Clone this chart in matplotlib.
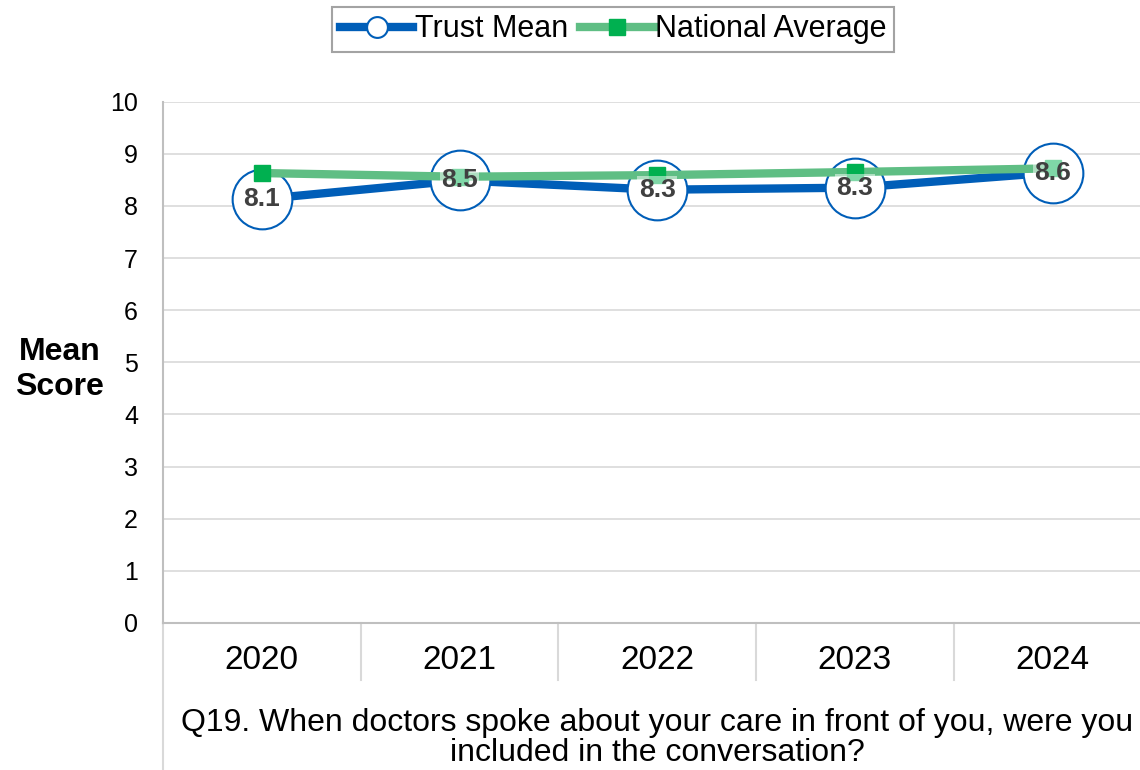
import matplotlib
matplotlib.use("Agg")
import matplotlib.pyplot as plt
from matplotlib.lines import Line2D

plt.rcParams['font.family'] = ['Liberation Sans', 'DejaVu Sans']

years = ["2020", "2021", "2022", "2023", "2024"]
trust_mean = [8.13, 8.49, 8.31, 8.35, 8.64]
trust_labels = ["8.1", "8.5", "8.3", "8.3", "8.6"]
national_avg = [8.63, 8.56, 8.59, 8.65, 8.72]
y_ticks = [0, 1, 2, 3, 4, 5, 6, 7, 8, 9, 10]
question = "Q19. When doctors spoke about your care in front of you, were you\nincluded in the conversation?"

BLUE = "#005EB8"
GREEN_LINE = "#5FBE84"
GREEN_MARK = "#00B050"

fig = plt.figure(figsize=(11.4, 7.7), dpi=100)
ax = fig.add_axes([0.143, 0.191, 0.867, 0.677])

x = list(range(len(years)))
ax.set_xlim(-0.5, len(years) - 0.5)
ax.set_ylim(0, 10)
ax.set_yticks(y_ticks)
ax.set_yticklabels([str(v) for v in y_ticks], fontsize=18)
ax.set_xticks([])
ax.tick_params(axis='y', length=0, pad=18)
ax.grid(axis='y', color='#D9D9D9', linewidth=1.2)
ax.set_axisbelow(True)
for s in ['top', 'right']:
    ax.spines[s].set_visible(False)
ax.spines['left'].set_color('#BFBFBF')
ax.spines['left'].set_linewidth(1.5)
ax.spines['bottom'].set_color('#BFBFBF')
ax.spines['bottom'].set_linewidth(1.5)

# Trust line
ax.plot(x, trust_mean, color=BLUE, linewidth=6, zorder=3, solid_capstyle='butt')
ax.plot(x, trust_mean, linestyle='none', marker='o', markersize=43,
        markerfacecolor='white', markeredgecolor=BLUE, markeredgewidth=1.5, zorder=4)
# National line
ax.plot(x, national_avg, color=GREEN_LINE, linewidth=6, zorder=5, solid_capstyle='butt')
ax.plot(x, national_avg, linestyle='none', marker='s', markersize=11,
        markerfacecolor=GREEN_MARK, markeredgecolor=GREEN_MARK, zorder=6)

for xi, yi, lab in zip(x, trust_mean, trust_labels):
    ax.text(xi, yi, lab, ha='center', va='center', fontsize=19, fontweight='bold',
            color='#404040', zorder=7,
            bbox=dict(boxstyle='square,pad=0.05', facecolor='white', alpha=0.5, edgecolor='none'))

# Category labels and separators
for xi, yr in zip(x, years):
    ax.text(xi, -0.72, yr, ha='center', va='center', fontsize=24, transform=ax.transData, clip_on=False)
for b in [i + 0.5 for i in x[:-1]]:
    ax.plot([b, b], [0, -1.1], color='#D9D9D9', linewidth=1.5, clip_on=False)
ax.plot([-0.5, -0.5], [0, -2.8], color='#D9D9D9', linewidth=1.5, clip_on=False)

ax.text(2, -2.2, question, ha='center', va='center', fontsize=23, linespacing=1.0,
        transform=ax.transData, clip_on=False)

fig.text(0.052, 0.52, "Mean\nScore", ha='center', va='center', fontsize=23,
         fontweight='bold', linespacing=1.25)

handles = [
    Line2D([0], [0], color=BLUE, linewidth=6, marker='o', markersize=15,
           markerfacecolor='white', markeredgecolor=BLUE, markeredgewidth=1.5),
    Line2D([0], [0], color=GREEN_LINE, linewidth=6, marker='s', markersize=11,
           markerfacecolor=GREEN_MARK, markeredgecolor=GREEN_MARK),
]
leg = fig.legend(handles, ["Trust Mean", "National Average"], loc='center',
                 bbox_to_anchor=(0.538, 0.962), ncol=2, fontsize=22, frameon=True,
                 fancybox=False, edgecolor='#8C8C8C', handlelength=2.4,
                 handletextpad=0.05, columnspacing=0.4, borderpad=0.25)
leg.get_frame().set_linewidth(1.5)

fig.savefig("out.png", dpi=100)
